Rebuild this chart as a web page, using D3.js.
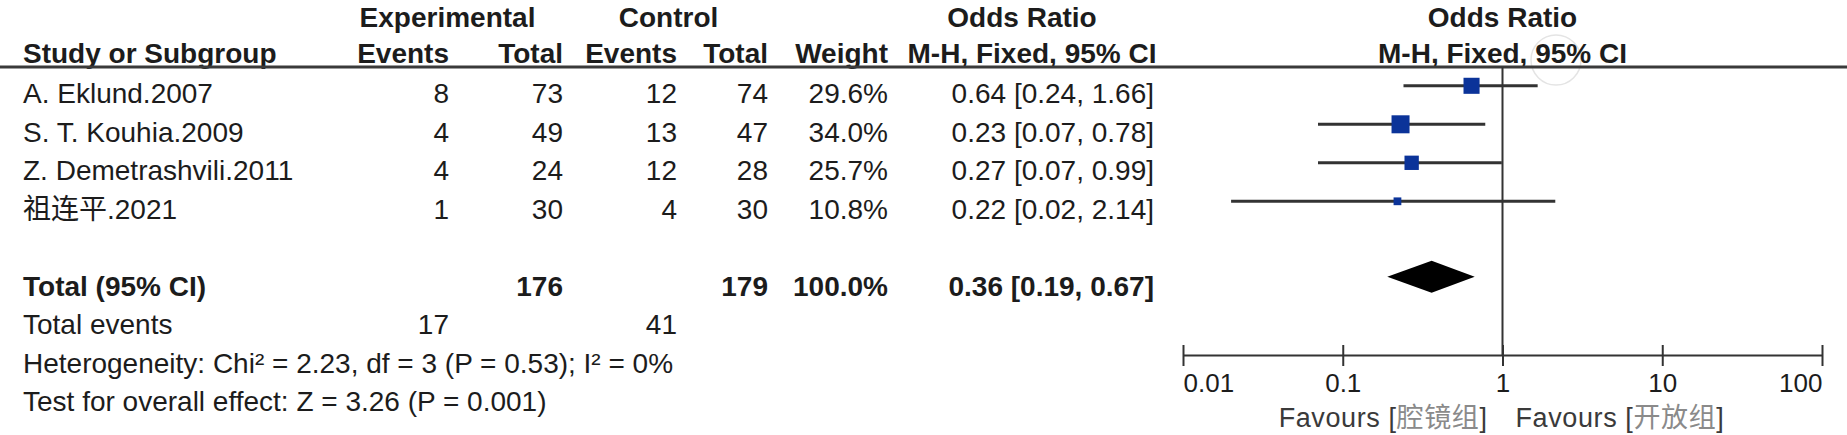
<!DOCTYPE html>
<html><head><meta charset="utf-8">
<script src="https://cdn.jsdelivr.net/npm/d3@7"></script>
<style>
html,body{margin:0;padding:0;background:#fff;}
svg{display:block;}
text{font-family:"Liberation Sans", Arial, "Noto Sans CJK SC", sans-serif; fill:#1c1c1c;}
</style></head><body>
<svg id="chart" width="1847" height="435"></svg>
<script>
// ---------------- data ----------------
const studies   = ["A. Eklund.2007", "S. T. Kouhia.2009", "Z. Demetrashvili.2011", "祖连平.2021"];
const expEvents = [8, 4, 4, 1];
const expTotal  = [73, 49, 24, 30];
const ctlEvents = [12, 13, 12, 4];
const ctlTotal  = [74, 47, 28, 30];
const weights   = [29.6, 34.0, 25.7, 10.8];
const orEst     = [0.64, 0.23, 0.27, 0.22];
const orLow     = [0.24, 0.07, 0.07, 0.02];
const orHigh    = [1.66, 0.78, 0.99, 2.14];

const pooled       = [0.36, 0.19, 0.67];      // estimate, low, high
const totalN       = [176, 179];              // experimental, control
const totalWeight  = 100.0;
const totalEvents  = [17, 41];
const heterogeneityText = "Heterogeneity: Chi² = 2.23, df = 3 (P = 0.53); I² = 0%";
const overallText       = "Test for overall effect: Z = 3.26 (P = 0.001)";

const headerTop = ["Experimental", "Control", "Odds Ratio", "Odds Ratio"];
const headerSub = ["Study or Subgroup", "Events", "Total", "Events", "Total", "Weight", "M-H, Fixed, 95% CI", "M-H, Fixed, 95% CI"];
const tickValues = [0.01, 0.1, 1, 10, 100];
const tickLabels = ["0.01", "0.1", "1", "10", "100"];
const favoursLeft  = ["Favours [", "腔镜组", "]"];
const favoursRight = ["Favours [", "开放组", "]"];

// ---------------- layout ----------------
const W = 1847, H = 435;
const svg = d3.select("#chart");
svg.append("rect").attr("width", W).attr("height", H).attr("fill", "#fff");

const x = d3.scaleLog().domain([0.01, 100]).range([1183, 1822]);
const rowY = d3.scaleLinear().domain([0, 1]).range([93.3, 131.8]); // row index -> text middle
const baseDy = 10, markDy = -7.5;
const boxSize = d3.scaleLinear().domain([0, d3.max(weights)]).range([3, 18]);

const colX = [23, 449, 563, 677, 768, 888, 1154];
const colAnchor = ["start", "end", "end", "end", "end", "end", "end"];

// faint watermark stamp
svg.append("circle").attr("cx", 1556).attr("cy", 60).attr("r", 25)
  .attr("fill", "none").attr("stroke", "#e4e4e4").attr("stroke-width", 1.5);

// headers
const hdr = svg.append("g").attr("font-weight", "bold").attr("font-size", 28);
const topPos = [447.5, 668.5, 1022, x(1)];
hdr.selectAll("text.top").data(headerTop).join("text").attr("class", "top")
  .attr("x", (d, i) => topPos[i]).attr("y", 27).attr("text-anchor", "middle").text(d => d);
const subPos = colX.slice(0, 6).concat([1032, x(1)]);
const subAnchor = colAnchor.slice(0, 6).concat(["middle", "middle"]);
hdr.selectAll("text.sub").data(headerSub).join("text").attr("class", "sub")
  .attr("x", (d, i) => subPos[i]).attr("y", 63).attr("text-anchor", (d, i) => subAnchor[i]).text(d => d);

// header rule
svg.append("line").attr("x1", 0).attr("x2", W).attr("y1", 67).attr("y2", 67)
  .attr("stroke", "#3a3a3a").attr("stroke-width", 3);

// study rows
const fmtOR = (e, l, h) => `${e.toFixed(2)} [${l.toFixed(2)}, ${h.toFixed(2)}]`;
const rows = studies.map((s, i) => [s, expEvents[i], expTotal[i], ctlEvents[i], ctlTotal[i],
  weights[i].toFixed(1) + "%", fmtOR(orEst[i], orLow[i], orHigh[i])]);
const body = svg.append("g").attr("font-size", 28);
rows.forEach((r, i) => {
  body.selectAll(null).data(r).join("text")
    .attr("x", (d, j) => colX[j]).attr("y", rowY(i) + baseDy)
    .attr("text-anchor", (d, j) => colAnchor[j]).text(d => d);
});

// total row (index 5)
const totRow = ["Total (95% CI)", "", totalN[0], "", totalN[1], totalWeight.toFixed(1) + "%", fmtOR(pooled[0], pooled[1], pooled[2])];
svg.append("g").attr("font-size", 28).attr("font-weight", "bold")
  .selectAll("text").data(totRow).join("text")
  .attr("x", (d, j) => colX[j]).attr("y", rowY(5) + baseDy)
  .attr("text-anchor", (d, j) => colAnchor[j]).text(d => d);

// total events (index 6)
const evRow = ["Total events", totalEvents[0], "", totalEvents[1]];
body.selectAll(null).data(evRow).join("text")
  .attr("x", (d, j) => colX[j]).attr("y", rowY(6) + baseDy)
  .attr("text-anchor", (d, j) => colAnchor[j]).text(d => d);
body.append("text").attr("x", colX[0]).attr("y", rowY(7) + baseDy).text(heterogeneityText);
body.append("text").attr("x", colX[0]).attr("y", rowY(8) + baseDy).text(overallText);

// ---------------- forest plot ----------------
const axisY = 355;
svg.append("line").attr("x1", x(1)).attr("x2", x(1)).attr("y1", 67).attr("y2", axisY)
  .attr("stroke", "#333").attr("stroke-width", 2);

const plot = svg.append("g");
plot.selectAll("line.ci").data(studies).join("line").attr("class", "ci")
  .attr("x1", (d, i) => x(orLow[i])).attr("x2", (d, i) => x(orHigh[i]))
  .attr("y1", (d, i) => rowY(i) + markDy).attr("y2", (d, i) => rowY(i) + markDy)
  .attr("stroke", "#333").attr("stroke-width", 3);
plot.selectAll("rect.box").data(studies).join("rect").attr("class", "box")
  .attr("x", (d, i) => x(orEst[i]) - boxSize(weights[i]) / 2)
  .attr("y", (d, i) => rowY(i) + markDy - boxSize(weights[i]) / 2)
  .attr("width", (d, i) => boxSize(weights[i]))
  .attr("height", (d, i) => boxSize(weights[i]))
  .attr("fill", "#0b3399");

// diamond
const dy = rowY(5) + markDy - 1.5, dh = 16;
plot.append("path")
  .attr("d", d3.line()([[x(pooled[1]), dy], [x(pooled[0]), dy - dh], [x(pooled[2]), dy], [x(pooled[0]), dy + dh]]) + "Z")
  .attr("fill", "#000");

// axis
const axis = d3.axisBottom(x).tickValues(tickValues).tickFormat((d, i) => tickLabels[i])
  .tickSizeInner(11).tickSizeOuter(0);
const ag = svg.append("g").attr("transform", `translate(0,${axisY})`).call(axis);
ag.select(".domain").attr("stroke", "#333").attr("stroke-width", 2);
ag.selectAll(".tick line").attr("y1", -10).attr("y2", 11).attr("stroke", "#333").attr("stroke-width", 2);
ag.selectAll(".tick text")
  .attr("y", 37).attr("dy", 0)
  .attr("font-size", 26).attr("font-family", "Liberation Sans, Arial, sans-serif")
  .attr("fill", "#2a2a2a")
  .attr("text-anchor", (d, i) => i === 0 ? "start" : (i === tickValues.length - 1 ? "end" : "middle"));

// favours labels
function favours(parts, xPos, anchor) {
  const t = svg.append("text").attr("x", xPos).attr("y", 427).attr("font-size", 27)
    .attr("text-anchor", anchor).attr("letter-spacing", 0.6);
  t.append("tspan").attr("fill", "#3a3a3a").text(parts[0]);
  t.append("tspan").attr("fill", "#8a8a8a").text(parts[1]);
  t.append("tspan").attr("fill", "#3a3a3a").text(parts[2]);
}
favours(favoursLeft, x(1) - 15, "end");
favours(favoursRight, x(1) + 13, "start");
</script>
</body></html>
